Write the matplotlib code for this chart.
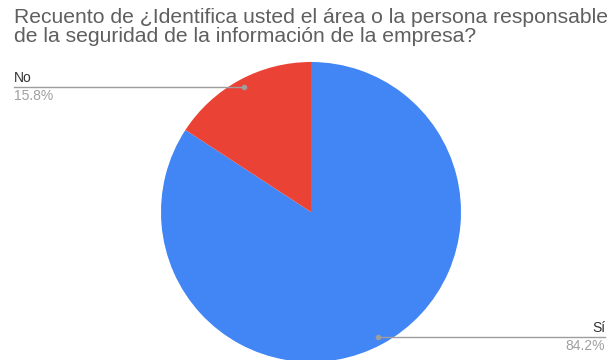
import numpy as np
import matplotlib.pyplot as plt

plt.rcParams['font.family'] = ['Liberation Sans', 'DejaVu Sans']

labels = ["Sí", "No"]
counts = [16, 3]
colors = ["#4285F4", "#EA4335"]

W, H = 610, 360
fig = plt.figure(figsize=(W / 100, H / 100), dpi=100)

# pie centre and radius in pixels
cx, cy, r = 311, 212, 150
ax = fig.add_axes([(cx - r) / W, (H - cy - r) / H, 2 * r / W, 2 * r / H])
wedges, _ = ax.pie(counts, colors=colors, startangle=90, counterclock=False,
                   radius=1.0, wedgeprops=dict(linewidth=0))
ax.set_xlim(-1, 1)
ax.set_ylim(-1, 1)
ax.set_aspect("equal")
ax.axis("off")

fig.text(14 / W, 1 - 8 / H,
         "Recuento de ¿Identifica usted el área o la persona responsable\n"
         "de la seguridad de la información de la empresa?",
         ha="left", va="top", fontsize=15.2, color="#5f5f5f", linespacing=0.98)

total = sum(counts)
for w, lab, n in zip(wedges, labels, counts):
    mid = np.deg2rad((w.theta1 + w.theta2) / 2)
    px = cx + 0.945 * r * np.cos(mid)
    py = cy - 0.945 * r * np.sin(mid)
    pct = f"{100 * n / total:.1f}%"
    if px < cx:
        x_end, ha = 14, "left"
    else:
        x_end, ha = 605, "right"
    fy = 1 - py / H
    fig.add_artist(plt.Line2D([px / W, x_end / W], [fy, fy], color="#9e9e9e", lw=1.0))
    fig.add_artist(plt.Line2D([px / W], [fy], marker="o", ms=3, color="#9e9e9e", lw=0))
    fig.text(x_end / W, fy + 2 / H, lab, ha=ha, va="bottom", fontsize=10, color="#333333")
    fig.text(x_end / W, fy - 2 / H, pct, ha=ha, va="top", fontsize=10, color="#a0a0a0")

fig.savefig("out.png", dpi=100)
